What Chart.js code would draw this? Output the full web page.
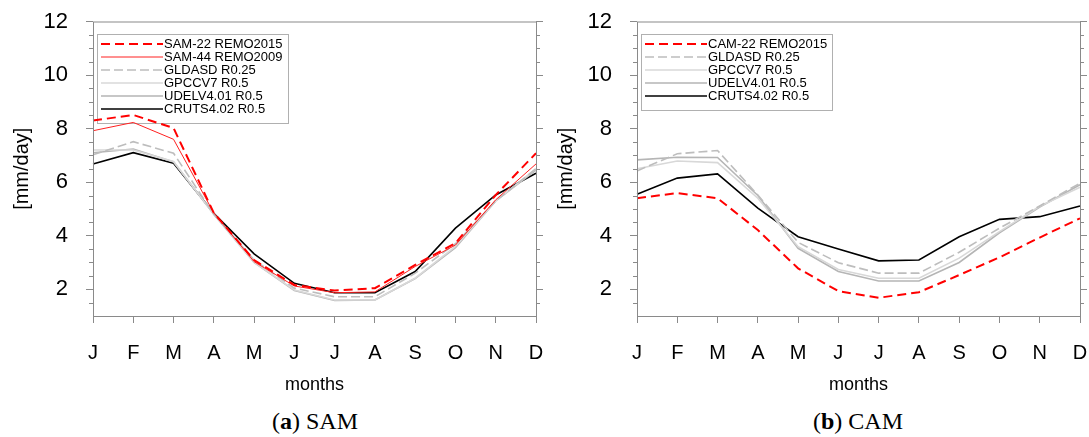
<!DOCTYPE html>
<html>
<head>
<meta charset="utf-8">
<script src="https://cdn.jsdelivr.net/npm/chart.js@4/dist/chart.umd.min.js"></script>
<style>
    body { margin: 0; background: #fff; width: 1089px; height: 437px; position: relative; overflow: hidden; }
    canvas { position: absolute; top: 0; }
    #samChart { left: 0; }
    #camChart { left: 544px; }
    .caption { position: absolute; top: 408px; font-family: "Liberation Serif", serif; font-size: 24px; color: #000; transform: translateX(-50%); white-space: nowrap; }
</style>
</head>
<body>
<canvas id="samChart" width="545" height="400"></canvas>
<canvas id="camChart" width="545" height="400"></canvas>
<div class="caption" style="left:315px">(<b>a</b>) SAM</div>
<div class="caption" style="left:858px">(<b>b</b>) CAM</div>

<script>
// ================= DATA =================
const months = ["J", "F", "M", "A", "M", "J", "J", "A", "S", "O", "N", "D"];
const yTicks = [2, 4, 6, 8, 10, 12];
const yMinor = [1.5, 2.5, 3, 3.5, 4.5, 5, 5.5, 6.5, 7, 7.5, 8.5, 9, 9.5, 10.5, 11, 11.5];

// SAM
const sam22 = [8.30, 8.51, 8.02, 4.85, 3.09, 2.16, 1.95, 2.04, 2.91, 3.72, 5.52, 7.08];
const sam44 = [7.92, 8.23, 7.60, 4.85, 3.03, 2.12, 1.87, 1.90, 2.85, 3.65, 5.34, 6.68];
const samGldas = [7.02, 7.51, 7.08, 4.80, 3.10, 2.04, 1.72, 1.72, 2.60, 3.70, 5.30, 6.50];
const samGpcc = [7.20, 7.20, 6.77, 4.80, 3.00, 1.97, 1.60, 1.60, 2.41, 3.60, 5.30, 6.50];
const samUdel = [7.10, 7.24, 6.75, 4.80, 3.00, 1.95, 1.58, 1.60, 2.40, 3.55, 5.30, 6.45];
const samCru = [6.68, 7.10, 6.71, 4.84, 3.32, 2.22, 1.87, 1.87, 2.66, 4.28, 5.52, 6.33];

// CAM
const cam22 = [5.40, 5.59, 5.40, 4.21, 2.78, 1.93, 1.68, 1.89, 2.53, 3.19, 3.93, 4.65];
const camGldas = [6.42, 7.06, 7.18, 5.52, 3.75, 2.99, 2.60, 2.60, 3.38, 4.28, 5.11, 5.96];
const camGpcc = [6.50, 6.79, 6.73, 5.40, 3.59, 2.74, 2.41, 2.41, 3.16, 4.15, 5.10, 5.81];
const camUdel = [6.83, 6.93, 6.92, 5.50, 3.53, 2.66, 2.31, 2.31, 3.00, 4.11, 5.07, 5.90];
const camCru = [5.55, 6.15, 6.31, 5.03, 3.96, 3.50, 3.06, 3.09, 3.96, 4.61, 4.71, 5.11];

// ================= STYLES =================
const AXIS_GREY = "#8a8a8a";
const SANS = "'Liberation Sans', Arial, sans-serif";

function line(label, data, color, width, dash) {
    return {
        label, data,
        borderColor: color,
        borderWidth: width,
        borderDash: dash || [],
        pointRadius: 0,
        fill: false,
        tension: 0
    };
}

// ================= PLUGINS =================
// frame round the plot, minor ticks on both sides
const framePlugin = {
    id: "frame",
    afterDraw(chart) {
        const { ctx, chartArea: a, scales } = chart;
        ctx.save();
        ctx.strokeStyle = AXIS_GREY;
        ctx.lineWidth = 1;
        ctx.strokeRect(a.left + 0.5, a.top + 0.5, a.right - a.left, a.bottom - a.top);
        ctx.beginPath();
        yMinor.forEach(v => {
            const y = Math.round(scales.y.getPixelForValue(v)) + 0.5;
            ctx.moveTo(a.left - 4, y); ctx.lineTo(a.left, y);
            ctx.moveTo(a.right, y); ctx.lineTo(a.right + 4, y);
        });
        ctx.stroke();
        ctx.restore();
    }
};

// boxed legend in the upper left corner, drawn under the lines
const boxLegend = {
    id: "boxLegend",
    beforeDatasetsDraw(chart) {
        const { ctx, chartArea: a } = chart;
        const sets = chart.data.datasets;
        const x0 = a.left + 4, y0 = a.top + 12.5;
        const w = 191, rowH = 13, h = sets.length * rowH + 11;
        ctx.save();
        ctx.strokeStyle = "#b0b0b0";
        ctx.lineWidth = 1;
        ctx.strokeRect(x0 + 0.5, y0 + 0.5, w, h);
        ctx.font = "13px " + SANS;
        ctx.textBaseline = "middle";
        ctx.fillStyle = "#000";
        sets.forEach((ds, i) => {
            const y = y0 + 10 + i * rowH;
            ctx.beginPath();
            ctx.strokeStyle = ds.borderColor;
            ctx.lineWidth = ds.borderWidth;
            ctx.setLineDash(ds.borderDash);
            ctx.moveTo(x0 + 4, y);
            ctx.lineTo(x0 + 66, y);
            ctx.stroke();
            ctx.setLineDash([]);
            ctx.fillText(ds.label, x0 + 67, y + 0.5);
        });
        ctx.restore();
    }
};

// ================= CHARTS =================
function makeChart(id, datasets) {
    return new Chart(document.getElementById(id), {
        type: "line",
        data: { labels: months, datasets },
        options: {
            responsive: false,
            animation: false,
            devicePixelRatio: 1,
            layout: { padding: { top: 21.5, left: 0, right: 0, bottom: 0 } },
            plugins: { legend: { display: false }, tooltip: { enabled: false } },
            scales: {
                x: {
                    type: "category",
                    offset: false,
                    grid: { drawOnChartArea: false, drawTicks: true, tickLength: 7, tickColor: AXIS_GREY },
                    border: { display: false },
                    ticks: { color: "#000", font: { family: SANS, size: 20 }, padding: 18, maxRotation: 0, autoSkip: false },
                    title: { display: true, text: "months", color: "#000", font: { family: SANS, size: 18 }, padding: { top: 0, bottom: 4 } },
                    afterFit(scale) {
                        scale.height = 84;
                        scale.paddingLeft = 0;
                        scale.paddingRight = 0;
                    }
                },
                y: {
                    position: "left",
                    min: 1, max: 12,
                    afterBuildTicks(scale) { scale.ticks = yTicks.map(v => ({ value: v })); },
                    grid: { drawOnChartArea: false, drawTicks: true, tickLength: 7, tickColor: AXIS_GREY },
                    border: { display: false },
                    ticks: { color: "#000", font: { family: SANS, size: 22 }, padding: 18 },
                    title: { display: true, text: "[mm/day]", color: "#000", font: { family: SANS, size: 20 }, padding: 10 },
                    afterFit(scale) {
                        scale.width = 93;
                        scale.paddingTop = 0;
                        scale.paddingBottom = 0;
                    }
                },
                y2: {
                    position: "right",
                    min: 1, max: 12,
                    afterBuildTicks(scale) { scale.ticks = yTicks.map(v => ({ value: v })); },
                    grid: { drawOnChartArea: false, drawTicks: true, tickLength: 7, tickColor: AXIS_GREY },
                    border: { display: false },
                    ticks: { display: false },
                    afterFit(scale) {
                        scale.width = 9;
                        scale.paddingTop = 0;
                        scale.paddingBottom = 0;
                    }
                }
            }
        },
        plugins: [framePlugin, boxLegend]
    });
}

makeChart("samChart", [
    line("SAM-22 REMO2015", sam22, "#ff0000", 2, [9, 5]),
    line("SAM-44 REMO2009", sam44, "#ff2020", 1),
    line("GLDASD R0.25", samGldas, "#bdbdbd", 1.6, [9, 4]),
    line("GPCCV7 R0.5", samGpcc, "#d8d8d8", 1.6),
    line("UDELV4.01 R0.5", samUdel, "#b5b5b5", 1.6),
    line("CRUTS4.02 R0.5", samCru, "#000000", 1.6)
]);

makeChart("camChart", [
    line("CAM-22 REMO2015", cam22, "#ff0000", 2, [9, 5]),
    line("GLDASD R0.25", camGldas, "#bdbdbd", 1.6, [9, 4]),
    line("GPCCV7 R0.5", camGpcc, "#d8d8d8", 1.6),
    line("UDELV4.01 R0.5", camUdel, "#b5b5b5", 1.6),
    line("CRUTS4.02 R0.5", camCru, "#000000", 1.6)
]);
</script>
</body>
</html>
